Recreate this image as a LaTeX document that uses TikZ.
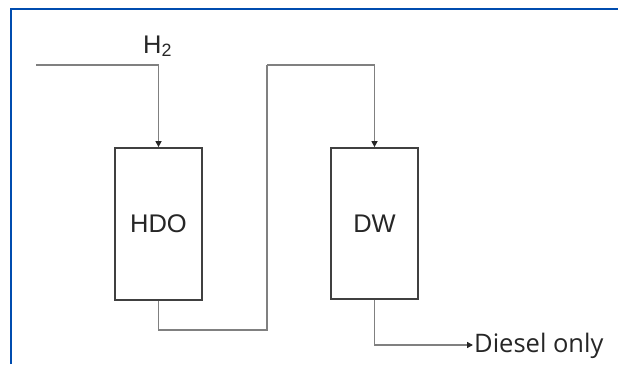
\documentclass[tikz,border=0pt]{standalone}
\usepackage{fontspec}
\setmainfont{Liberation Sans}
\newfontfamily\diesfont{Open Sans}
\usetikzlibrary{arrows.meta}
\begin{document}
\begin{tikzpicture}[x=1pt,y=-1pt,
  frameline/.style={draw=black!45!blue!70!cyan, line width=1.8pt},
  pipe/.style={draw=black!50, line width=1.4pt},
  vessel/.style={draw=black!75, line width=1.8pt, fill=white, minimum width=87pt, inner sep=0pt,
    font=\fontsize{25.5}{30}\selectfont, text=black!85},
  lbl/.style={inner sep=0pt, font=\fontsize{25.5}{30}\selectfont, text=black!85},
  tip/.style={-{Triangle[length=6pt,width=6pt,color=black!85]}}]
\useasboundingbox (0,0) rectangle (618,364);
\fill[white] (0,0) rectangle (618,364);
\coordinate (ftl) at (11,9);
\coordinate (ftr) at (618,9);
\coordinate (fbl) at (11,364);
\draw[frameline] (fbl) -- (ftl) -- (ftr);
\node[vessel, minimum height=152pt] (HDO) at (158.5,224) {HDO};
\node[vessel, minimum height=151pt] (DW) at (374.5,223.5) {DW};
\node[lbl, anchor=base west] (H2) at (143,53) {H\textsubscript{2}};
\coordinate (feed) at (36,65);
\coordinate (b1) at (267,330);
\coordinate (b2) at (267,65);
\coordinate (dout) at (473,345);
\node[lbl, anchor=base west, font=\diesfont\fontsize{25.5}{30}\selectfont] (dies) at (474,352.5) {Diesel only};
\draw[pipe, tip] (feed) -| (HDO.north);
\draw[pipe] (HDO.south) |- (b1) -- (b2);
\draw[pipe, tip] (b2) -| (DW.north);
\draw[pipe, tip] (DW.south) |- (dout);
\end{tikzpicture}
\end{document}
